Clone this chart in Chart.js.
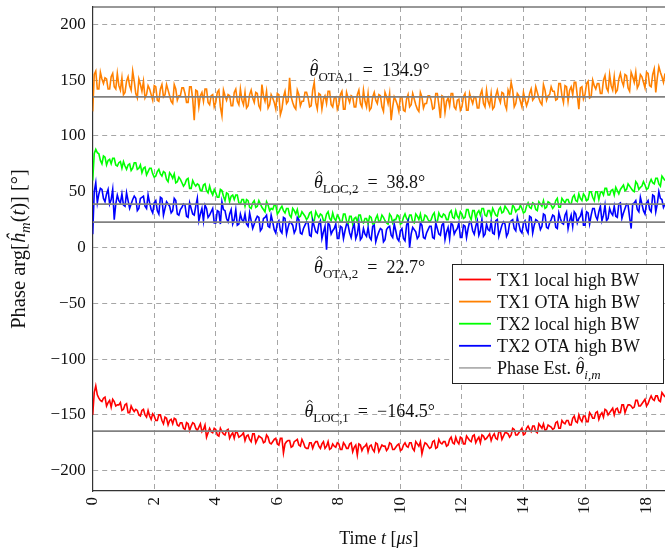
<!DOCTYPE html>
<html>
<head>
<meta charset="utf-8">
<title>Phase over time</title>
<script src="https://cdn.jsdelivr.net/npm/chart.js@4.4.1/dist/chart.umd.min.js"></script>
<style>
  html, body { margin: 0; padding: 0; background: #fff; overflow: hidden; }
  #wrap { width: 665px; height: 552px; }
</style>
</head>
<body>
<div id="wrap"><canvas id="phaseChart" width="665" height="552"></canvas></div>
<script>
// phase samples in degrees, one every 0.05 us from 0 to 18.6 us (one row = 1 us)
const tx1Local = [
  -150, -130, -124, -132, -135, -137, -138, -135, -134, -142, -139, -137, -143, -136, -138, -142, -141, -141, -139, -146,
  -145, -141, -140, -148, -148, -142, -145, -147, -145, -146, -150, -151, -146, -145, -150, -152, -146, -151, -154, -149,
  -151, -155, -155, -150, -150, -155, -158, -152, -153, -159, -155, -154, -158, -153, -154, -159, -160, -157, -157, -162,
  -163, -157, -158, -164, -160, -157, -158, -162, -164, -161, -158, -165, -163, -159, -170, -166, -162, -165, -166, -162,
  -163, -168, -169, -162, -165, -167, -168, -164, -163, -171, -168, -166, -171, -165, -166, -170, -169, -168, -166, -173,
  -169, -168, -172, -174, -167, -167, -175, -172, -169, -170, -171, -175, -174, -168, -170, -175, -176, -174, -172, -171,
  -176, -177, -171, -171, -184, -176, -174, -173, -173, -179, -178, -174, -173, -172, -177, -178, -172, -175, -179, -180,
  -180, -175, -175, -180, -176, -174, -174, -178, -180, -176, -174, -180, -178, -174, -181, -180, -176, -178, -179, -175,
  -176, -181, -181, -175, -177, -180, -180, -176, -175, -183, -179, -177, -186, -176, -177, -182, -179, -178, -176, -183,
  -178, -177, -181, -183, -175, -176, -183, -180, -177, -178, -178, -182, -180, -175, -176, -181, -181, -179, -177, -176,
  -182, -181, -177, -175, -178, -179, -175, -175, -180, -182, -174, -176, -178, -174, -185, -179, -175, -176, -178, -180,
  -179, -174, -173, -180, -179, -172, -175, -176, -174, -174, -178, -177, -172, -170, -175, -176, -170, -174, -176, -170,
  -171, -176, -176, -169, -171, -173, -174, -169, -168, -175, -172, -170, -175, -168, -169, -172, -171, -169, -167, -173,
  -169, -167, -171, -172, -165, -165, -172, -169, -166, -166, -167, -170, -168, -162, -163, -168, -168, -166, -164, -162,
  -168, -167, -162, -160, -163, -165, -160, -160, -165, -166, -158, -160, -162, -158, -164, -163, -159, -160, -161, -163,
  -162, -157, -156, -162, -162, -155, -157, -158, -155, -155, -159, -159, -153, -151, -156, -157, -150, -154, -156, -151,
  -151, -156, -156, -148, -150, -153, -153, -148, -147, -154, -150, -148, -152, -145, -146, -150, -148, -146, -144, -150,
  -145, -144, -148, -148, -141, -141, -148, -144, -141, -141, -142, -144, -143, -137, -137, -142, -142, -140, -138, -136,
  -142, -140, -136, -133, -136, -137, -133, -133, -137, -138, -130, -132, -134
];
const tx1Ota = [
  122, 155, 158, 142, 142, 157, 151, 147, 152, 151, 142, 142, 153, 156, 144, 142, 156, 145, 141, 152,
  137, 139, 149, 153, 145, 141, 158, 149, 138, 134, 151, 146, 140, 149, 134, 137, 145, 142, 137, 132,
  145, 144, 132, 131, 142, 146, 135, 137, 146, 141, 136, 131, 129, 146, 142, 132, 136, 136, 143, 143,
  138, 130, 130, 144, 144, 133, 114, 141, 140, 126, 136, 139, 131, 142, 142, 130, 128, 136, 137, 126,
  130, 139, 141, 126, 118, 141, 136, 132, 137, 136, 127, 127, 139, 142, 131, 128, 142, 132, 128, 139,
  125, 127, 137, 141, 134, 130, 139, 138, 127, 124, 146, 136, 131, 140, 125, 128, 137, 134, 130, 124,
  138, 137, 119, 124, 135, 140, 129, 131, 152, 135, 130, 126, 124, 141, 137, 127, 131, 131, 139, 139,
  134, 126, 127, 141, 148, 130, 124, 138, 137, 124, 133, 136, 129, 140, 140, 128, 126, 134, 135, 124,
  128, 137, 140, 124, 124, 139, 134, 130, 136, 135, 126, 126, 137, 141, 129, 126, 141, 131, 126, 138,
  123, 125, 135, 139, 132, 129, 137, 136, 126, 122, 139, 135, 129, 138, 114, 126, 135, 132, 128, 122,
  135, 135, 123, 122, 133, 137, 126, 128, 138, 133, 128, 124, 122, 139, 135, 125, 129, 129, 136, 136,
  132, 124, 125, 138, 138, 128, 116, 136, 135, 121, 131, 134, 127, 138, 138, 126, 124, 132, 133, 123,
  126, 135, 138, 123, 123, 138, 133, 129, 135, 134, 125, 125, 137, 141, 129, 126, 141, 131, 127, 138,
  124, 126, 136, 141, 134, 130, 139, 138, 128, 124, 141, 137, 148, 141, 126, 129, 138, 136, 131, 126,
  139, 133, 127, 131, 138, 142, 132, 134, 144, 139, 134, 130, 128, 146, 141, 132, 136, 137, 144, 140,
  140, 132, 133, 147, 147, 136, 130, 145, 144, 131, 141, 144, 137, 148, 148, 136, 124, 143, 144, 133,
  137, 147, 149, 134, 135, 150, 145, 142, 147, 147, 138, 138, 150, 154, 143, 140, 155, 145, 141, 153,
  139, 141, 151, 156, 149, 145, 155, 154, 143, 140, 157, 153, 148, 157, 143, 146, 155, 153, 148, 143,
  157, 156, 145, 144, 155, 160, 139, 152, 162, 157, 153, 148, 156
];
const tx2Local = [
  60, 84, 88, 85, 84, 78, 75, 82, 81, 74, 78, 79, 75, 80, 80, 74, 73, 76, 77, 71,
  77, 73, 70, 74, 75, 69, 71, 76, 76, 70, 71, 74, 67, 71, 72, 65, 68, 71, 71, 66,
  63, 64, 68, 70, 66, 64, 68, 67, 61, 59, 67, 65, 62, 66, 58, 59, 63, 61, 58, 55,
  57, 61, 62, 53, 53, 60, 57, 55, 57, 56, 51, 51, 56, 57, 51, 49, 55, 50, 47, 52,
  49, 45, 45, 52, 51, 46, 42, 49, 48, 41, 46, 47, 43, 47, 47, 40, 39, 43, 43, 37,
  43, 42, 36, 35, 40, 42, 36, 37, 42, 39, 36, 34, 32, 41, 38, 33, 35, 34, 38, 38,
  30, 32, 35, 37, 33, 31, 35, 35, 29, 27, 35, 33, 30, 34, 27, 28, 32, 30, 28, 25,
  27, 31, 32, 24, 24, 32, 29, 27, 30, 29, 24, 24, 30, 32, 26, 24, 31, 26, 24, 29,
  27, 23, 23, 30, 30, 24, 21, 28, 28, 21, 26, 27, 23, 29, 29, 23, 22, 26, 26, 21,
  28, 27, 21, 21, 26, 29, 23, 24, 29, 27, 24, 22, 21, 30, 28, 22, 25, 25, 29, 28,
  21, 22, 27, 30, 26, 24, 29, 29, 23, 22, 30, 28, 25, 30, 23, 24, 29, 28, 25, 23,
  25, 29, 31, 23, 23, 31, 28, 27, 30, 29, 25, 25, 31, 33, 27, 26, 33, 28, 26, 32,
  30, 26, 27, 34, 34, 28, 25, 33, 33, 26, 31, 33, 29, 35, 35, 29, 28, 33, 33, 28,
  35, 32, 29, 28, 34, 36, 31, 32, 37, 35, 33, 30, 30, 38, 36, 32, 34, 34, 38, 35,
  31, 32, 37, 40, 36, 35, 40, 39, 34, 33, 41, 39, 37, 42, 35, 36, 41, 40, 38, 35,
  37, 42, 44, 36, 36, 44, 42, 40, 43, 43, 39, 39, 45, 47, 42, 41, 48, 44, 42, 48,
  46, 42, 43, 50, 50, 45, 42, 50, 50, 43, 49, 50, 47, 53, 53, 47, 47, 51, 52, 47,
  54, 51, 48, 52, 54, 56, 51, 52, 57, 55, 53, 51, 50, 59, 57, 52, 54, 55, 59, 56,
  52, 53, 58, 61, 58, 57, 62, 62, 57, 55, 64, 62, 60
];
const tx2Ota = [
  12, 50, 58, 40, 48, 53, 52, 44, 41, 48, 52, 39, 43, 52, 25, 39, 47, 42, 40, 48,
  38, 37, 49, 42, 35, 39, 43, 46, 44, 33, 35, 44, 45, 46, 37, 35, 47, 40, 34, 31,
  40, 42, 33, 30, 45, 44, 29, 35, 41, 39, 37, 31, 33, 44, 42, 30, 29, 34, 36, 39,
  38, 28, 27, 40, 35, 30, 29, 37, 44, 24, 30, 35, 24, 38, 35, 27, 29, 32, 35, 22,
  22, 33, 32, 21, 41, 34, 33, 26, 23, 30, 34, 21, 25, 34, 20, 21, 30, 25, 23, 30,
  21, 19, 31, 24, 17, 21, 25, 28, 27, 15, 17, 26, 27, 29, 19, 18, 29, 23, 16, 13,
  22, 24, 15, 13, 27, 26, 12, 18, 23, 22, 20, 13, 16, 27, 25, 13, 12, 17, 20, 23,
  22, 11, 10, 24, 19, 14, 13, 21, 24, 8, 14, 19, -2, 22, 20, 12, 15, 17, 21, 8,
  8, 19, 18, 8, 15, 21, 20, 13, 9, 17, 21, 8, 12, 22, 7, 9, 17, 12, 10, 18,
  9, 7, 19, 20, 5, 10, 14, 17, 16, 5, 7, 16, 18, 19, 11, 9, 21, 15, 8, 6,
  15, 17, 8, 6, 20, 24, 0, 12, 18, 16, 14, 8, 10, 22, 20, 9, 8, 13, 16, 19,
  19, 9, 8, 22, 17, 12, 11, 20, 22, 7, 14, 18, 8, 22, 20, 12, 15, 17, 22, 9,
  9, 20, 19, 9, 17, 23, 22, 15, 12, 19, 24, 11, 15, 25, 10, 12, 21, 16, 15, 23,
  13, 12, 24, 25, 10, 15, 20, 23, 21, 10, 13, 22, 24, 25, 17, 15, 27, 21, 15, 13,
  22, 24, 16, 13, 28, 27, 13, 20, 25, 24, 22, 16, 19, 30, 29, 18, 17, 22, 25, 29,
  28, 18, 17, 31, 26, 22, 21, 29, 32, 17, 24, 29, 19, 32, 30, 22, 26, 28, 33, 20,
  20, 32, 31, 21, 29, 35, 35, 28, 25, 32, 37, 24, 29, 38, 24, 26, 35, 31, 29, 37,
  28, 27, 39, 40, 26, 31, 35, 39, 38, 27, 17, 39, 40, 42, 34, 32, 45, 39, 33, 30,
  40, 42, 34, 32, 47, 46, 32, 39, 50, 44, 43, 36, 39
];

const sampleStep = 0.05; // us
const times = tx1Local.map((_, i) => +(i * sampleStep).toFixed(2));

const seriesNames = ['TX1 local high BW', 'TX1 OTA high BW', 'TX2 local high BW', 'TX2 OTA high BW'];
const seriesValues = [tx1Local, tx1Ota, tx2Local, tx2Ota];
const seriesColors = ['#ff0000', '#ff8000', '#00ff00', '#0000ff'];

// phase estimates and their subscripts
const estValues = [134.9, 38.8, 22.7, -164.5];
const estNames = ['OTA,1', 'LOC,2', 'OTA,2', 'LOC,1'];
const estColor = '#808080';

const xTicks = [0, 2, 4, 6, 8, 10, 12, 14, 16, 18];
const yTicks = [-200, -150, -100, -50, 0, 50, 100, 150, 200];

const SERIF = '"Liberation Serif", "Times New Roman", serif';
const TEXT = 18;
const INK = '#111';

const minus = v => (v < 0 ? '\u2212' + Math.abs(v) : String(v));

// draw a run of text pieces (italic / subscript / hatted) on one baseline
function drawRuns(ctx, runs, x, base, size, align) {
  const fontOf = r => `${r.it ? 'italic ' : ''}${r.sub ? size * 0.72 : size}px ${SERIF}`;
  let total = 0;
  runs.forEach(r => { ctx.font = fontOf(r); r.w = ctx.measureText(r.t).width; total += r.w; });
  let px = align === 'left' ? x : x - total / 2;
  ctx.textAlign = 'left';
  ctx.textBaseline = 'alphabetic';
  ctx.fillStyle = INK;
  ctx.strokeStyle = INK;
  runs.forEach(r => {
    ctx.font = fontOf(r);
    const by = base + (r.sub ? size * 0.26 : 0);
    ctx.fillText(r.t, px, by);
    if (r.hat) {
      const cx = px + r.w * 0.6, top = by - size * 0.93, hw = size * 0.15;
      ctx.lineWidth = size * 0.055;
      ctx.beginPath();
      ctx.moveTo(cx - hw, top + hw * 0.75);
      ctx.lineTo(cx, top);
      ctx.lineTo(cx + hw, top + hw * 0.75);
      ctx.stroke();
    }
    px += r.w;
  });
}

const thetaHat = { t: '\u03b8', it: true, hat: true };

const overlay = {
  id: 'overlay',
  afterDraw(chart, args, opts) {
    const { ctx, chartArea: a, scales: { x, y } } = chart;
    ctx.save();

    // top frame
    ctx.strokeStyle = '#333';
    ctx.lineWidth = 1.2;
    ctx.beginPath();
    ctx.moveTo(a.left, a.top);
    ctx.lineTo(a.right, a.top);
    ctx.stroke();

    // estimate labels
    estValues.forEach((v, i) => {
      drawRuns(ctx, [thetaHat, { t: estNames[i], sub: true }, { t: '\u2002=\u2002' + minus(v.toFixed(1)) + '\u00b0' }],
        x.getPixelForValue(opts.labelAt), y.getPixelForValue(v) + opts.labelShift[i], TEXT);
    });

    // legend box
    const L = opts.legend;
    ctx.fillStyle = '#fff';
    ctx.fillRect(L.x, L.y, L.w, L.h);
    ctx.strokeStyle = '#222';
    ctx.lineWidth = 1;
    ctx.strokeRect(L.x + 0.5, L.y + 0.5, L.w, L.h);
    const rows = seriesNames.map((n, i) => ({ runs: [{ t: n }], color: seriesColors[i] }));
    rows.push({ runs: [{ t: 'Phase Est. ' }, thetaHat, { t: 'i,m', it: true, sub: true }], color: '#b0b0b0' });
    rows.forEach((r, i) => {
      const cy = L.y + L.first + i * L.step;
      ctx.strokeStyle = r.color;
      ctx.lineWidth = 1.8;
      ctx.beginPath();
      ctx.moveTo(L.x + 7, cy);
      ctx.lineTo(L.x + 39, cy);
      ctx.stroke();
      drawRuns(ctx, r.runs, L.x + 45, cy + 6, TEXT, 'left');
    });

    // axis titles
    drawRuns(ctx, [{ t: 'Time ' }, { t: 't', it: true }, { t: ' [' }, { t: '\u03bcs', it: true }, { t: ']' }],
      (a.left + a.right) / 2, 544, TEXT);
    ctx.translate(20, (a.top + a.bottom) / 2);
    ctx.rotate(-Math.PI / 2);
    drawRuns(ctx, [{ t: 'Phase arg[' }, { t: '\u0125', it: true }, { t: 'm', it: true, sub: true },
      { t: '(' }, { t: 't', it: true }, { t: ')] [\u00b0]' }], 0, 5, 20.5);
    ctx.restore();
  }
};

const datasets = seriesValues.map((vals, i) => ({
  label: seriesNames[i],
  data: vals.map((v, k) => ({ x: times[k], y: v })),
  borderColor: seriesColors[i],
  borderWidth: 1.6,
  order: 4 - i
}));
estValues.forEach((v, i) => datasets.push({
  label: 'est ' + estNames[i],
  data: [{ x: times[0], y: v }, { x: times[times.length - 1], y: v }],
  borderColor: estColor,
  borderWidth: 1.8,
  order: 0
}));

// keep the plot frame fixed: no extra room for edge tick labels
const noPadding = s => { s.paddingTop = s.paddingBottom = s.paddingLeft = s.paddingRight = 0; };

const tickFont = { family: SERIF, size: 17 };
const gridStyle = { color: '#a6a6a6', lineWidth: 1, drawTicks: false };
const borderStyle = { display: true, color: '#333', width: 1.2, dash: [5, 4] };

new Chart(document.getElementById('phaseChart'), {
  type: 'line',
  data: { datasets },
  plugins: [overlay],
  options: {
    responsive: false,
    animation: false,
    events: [],
    layout: { padding: { top: 7, right: 0, left: 0, bottom: 0 } },
    elements: { point: { radius: 0 }, line: { tension: 0 } },
    plugins: {
      legend: { display: false },
      tooltip: { enabled: false },
      overlay: {
        labelAt: 9,
        labelShift: [-21, -16, 51, -14],
        legend: { x: 452, y: 264, w: 211, h: 119, first: 15.5, step: 22.1 }
      }
    },
    scales: {
      x: {
        type: 'linear',
        min: 0,
        max: 18.6,
        afterBuildTicks: s => { s.ticks = xTicks.map(v => ({ value: v })); },
        afterFit: s => { s.height = 61; noPadding(s); },
        ticks: { font: tickFont, color: INK, minRotation: 90, maxRotation: 90, padding: 6, autoSkip: false },
        grid: gridStyle,
        border: borderStyle
      },
      y: {
        type: 'linear',
        min: -218.2,
        max: 215.5,
        afterBuildTicks: s => { s.ticks = yTicks.map(v => ({ value: v })); },
        afterFit: s => { s.width = 92.7; noPadding(s); },
        ticks: { font: tickFont, color: INK, padding: 7, callback: v => minus(v) },
        grid: gridStyle,
        border: borderStyle
      }
    }
  }
});
</script>
</body>
</html>
